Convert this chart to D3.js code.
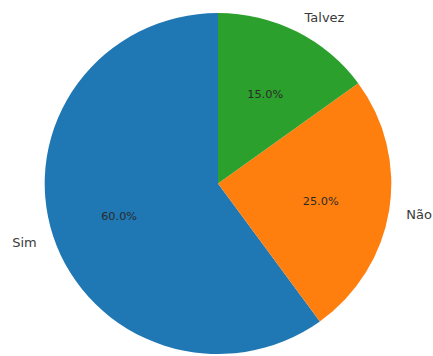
<!DOCTYPE html>
<html>
<head>
<meta charset="utf-8">
<script src="https://cdn.jsdelivr.net/npm/d3@7"></script>
<style>
  html, body { margin: 0; padding: 0; background: #ffffff; }
  svg { display: block; }
  text { font-family: "DejaVu Sans", sans-serif; }
</style>
</head>
<body>
<svg id="chart" width="433" height="356"></svg>
<script>
// Survey answers and their shares
const categories = ["Sim", "Não", "Talvez"];
const values = [60, 25, 15];
const colors = ["#1f77b4", "#ff7f0e", "#2ca02c"];

const width = 433, height = 356;
const cx = 218, cy = 183.5;
const rx = 173.3, ry = 170.5;
const yScale = ry / rx;

const svg = d3.select("#chart");

// Slices run counter-clockwise from twelve o'clock
const pie = d3.pie()
  .sort(null)
  .value(d => d)
  .startAngle(0)
  .endAngle(-2 * Math.PI);

const arcs = pie(values);
const total = d3.sum(values);

const arc = d3.arc().innerRadius(0).outerRadius(rx);
const pctArc = d3.arc().innerRadius(rx * 0.6).outerRadius(rx * 0.6);
const lblArc = d3.arc().innerRadius(rx * 1.1).outerRadius(rx * 1.1);

const g = svg.append("g")
  .attr("transform", `translate(${cx},${cy}) scale(1,${yScale})`);

g.selectAll("path.slice")
  .data(arcs)
  .join("path")
  .attr("class", "slice")
  .attr("d", arc)
  .attr("fill", (d, i) => colors[i]);

const labels = svg.append("g").attr("transform", `translate(${cx},${cy})`);

// Percentage labels inside each slice
labels.selectAll("text.pct")
  .data(arcs)
  .join("text")
  .attr("class", "pct")
  .attr("x", d => pctArc.centroid(d)[0])
  .attr("y", d => pctArc.centroid(d)[1] * yScale + 1.8)
  .attr("text-anchor", "middle")
  .attr("dominant-baseline", "central")
  .attr("font-size", "11.3px")
  .attr("fill", "#2b2b2b")
  .text(d => (d.value / total * 100).toFixed(1) + "%");

// Category labels outside the pie
labels.selectAll("text.cat")
  .data(arcs)
  .join("text")
  .attr("class", "cat")
  .attr("x", d => lblArc.centroid(d)[0])
  .attr("y", d => lblArc.centroid(d)[1] * yScale + 1.3)
  .attr("text-anchor", d => lblArc.centroid(d)[0] > 0 ? "start" : "end")
  .attr("dominant-baseline", "central")
  .attr("font-size", "13px")
  .attr("fill", "#3a3a3a")
  .text((d, i) => categories[i]);
</script>
</body>
</html>
